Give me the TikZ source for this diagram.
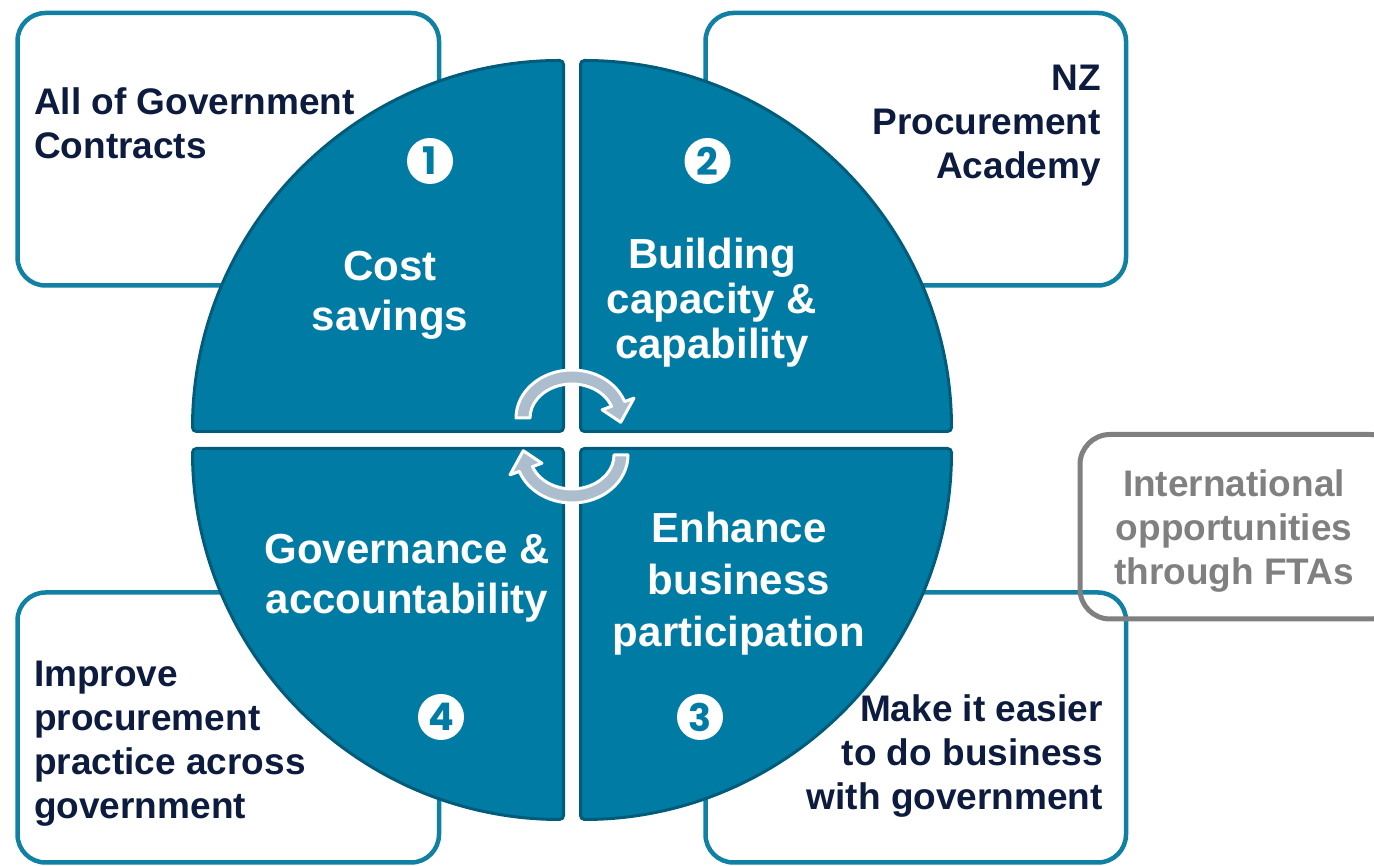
\documentclass[tikz,border=0pt]{standalone}
\usepackage{fontspec}
\setmainfont{Liberation Sans}
\newfontfamily\digitfont{Poppins}
\definecolor{quadteal}{RGB}{0,123,163}
\definecolor{quadedge}{RGB}{0,92,122}
\definecolor{boxteal}{RGB}{16,128,163}
\definecolor{navy}{RGB}{13,27,62}
\definecolor{cyclegrey}{RGB}{172,190,205}
\definecolor{ftagrey}{RGB}{128,128,128}
\begin{document}
\begin{tikzpicture}[x=1pt, y=1pt,
        outline/.style={draw=boxteal, line width=4.5pt, rounded corners=28pt},
        ftabox/.style={draw=ftagrey, line width=5pt, rounded corners=30pt},
        quarter/.style={fill=quadteal, draw=quadedge, line width=3pt, rounded corners=4pt},
        badge/.style={circle, fill=white, minimum size=46pt, inner sep=0pt, text=quadteal,
            font=\digitfont\bfseries\fontsize{38}{38}\selectfont},
        boxtext/.style={text=navy, inner sep=0pt, font=\bfseries\fontsize{37}{44}\selectfont},
        quadtext/.style={text=white, inner sep=0pt, align=center,
            font=\bfseries\fontsize{42}{#1}\selectfont},
        quadtext/.default=50,
        cyclearrow/.style={fill=cyclegrey, draw=white, line width=3pt, line join=round}]
        \useasboundingbox (0, 0) rectangle (1374, 866);
        \clip (0, 0) rectangle (1374, 866);
        
        \draw[outline] (17.5, 580.5) rectangle (439, 853);
        \draw[outline] (705.5, 580.5) rectangle (1126, 853);
        \draw[outline] (17.5, 3.5) rectangle (439, 273.5);
        \draw[outline] (705.5, 3.5) rectangle (1126, 273.5);
        \draw[ftabox] (1080, 247) rectangle (1400, 431.5);
        
        \foreach \cx/\cy/\a in {563.5/434.5/90, 580.5/434.5/0, 580.5/417.5/270, 563.5/417.5/180}
        \draw[quarter] (\cx, \cy) -- ++(\a:371) arc[start angle=\a, delta angle=90, radius=371] -- cycle;
        
        \node[badge] (n1) at (430, 705) {1};
        \node[badge] (n2) at (707.5, 705) {2};
        \node[badge] (n3) at (700, 149) {3};
        \node[badge] (n4) at (441, 149) {4};
        
        \node[quadtext] (savings) at (390, 571) {Cost\\savings};
        \node[quadtext=45] (capability) at (712, 563) {Building\\capacity \&\\capability};
        \node[quadtext] (governance) at (407, 288) {Governance \&\\accountability};
        \node[quadtext=52] (participation) at (739, 282) {Enhance\\business\\participation};
        
        \node[boxtext, anchor=west, align=left] (aog) at (34, 743) {All of Government\\Contracts};
        \node[boxtext, anchor=east, align=right] (academy) at (1101, 740.5) {NZ\\Procurement\\Academy};
        \node[boxtext, anchor=west, align=left] (practice) at (34, 122) {Improve\\procurement\\practice across\\government};
        \node[boxtext, anchor=east, align=right] (easier) at (1103, 109.5) {Make it easier\\to do business\\with government};
        \node[boxtext, text=ftagrey, align=center] (fta) at (1234, 334.5) {International\\opportunities\\through FTAs};
        
        \foreach \cy/\turn in {448/0, 411/180}
        \draw[cyclearrow, shift={(572, \cy)}, rotate=\turn]
            (180:56 and 48) arc[start angle=180, end angle=20, x radius=56, y radius=48]
            -- (20:66 and 58) -- (-6:49 and 41) -- (20:32 and 24) -- (20:42 and 34)
            arc[start angle=20, end angle=180, x radius=42, y radius=34] -- cycle;
        \end{tikzpicture}
\end{document}
